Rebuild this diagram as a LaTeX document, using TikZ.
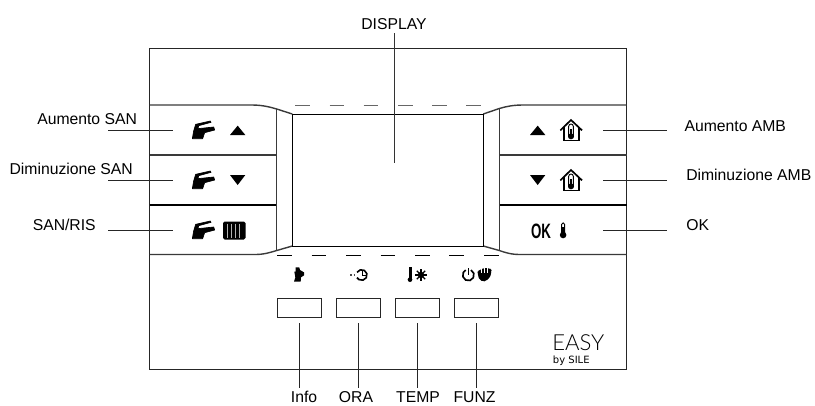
\documentclass[tikz,border=0pt]{standalone}
\usepackage{fontspec}
\setmainfont{Liberation Sans}
\newfontfamily\easyfont{Lato Light}
\newfontfamily\byfont{DejaVu Sans}
\usetikzlibrary{calc}
\definecolor{edge}{HTML}{3A3A3A}
\tikzset{
 px/.style={x=.75pt,y=-.75pt},
 lab/.style={inner sep=0pt,anchor=base west,font=\fontsize{11.8pt}{14pt}\selectfont},
 labc/.style={inner sep=0pt,anchor=base,font=\fontsize{11.8pt}{14pt}\selectfont},
 frameline/.style={draw=black!85,line width=.7pt},
 keyline/.style={draw=edge,line width=1.05pt},
 leader/.style={draw=black!85,line width=.6pt},
 dashline/.style={draw=black!60,line width=.75pt},
 softkey/.style={draw=black!85,line width=.65pt,minimum width=33pt,minimum height=14.2pt,inner sep=0pt},
 faucet/.pic={\filldraw[black,line width=.5pt,line join=round,x=.25pt,y=-.25pt]
   (187,146)--(191,123)--(197,103)--(241,93)--(243,97)--(206,107)--(204,116)--(251,111)--(254,120)--(224,128)--(218,146)--cycle;},
 uptri/.pic={\fill[black,x=.25pt,y=-.25pt] (300,135)--(346,135)--(323,107)--cycle;},
 dntri/.pic={\fill[black,x=.25pt,y=-.25pt] (300,255)--(346,255)--(323,285)--cycle;},
 house/.pic={\begin{scope}[x=.25pt,y=-.25pt]
   \draw[black,line width=1.25pt,line join=miter] (271,121)--(303,90)--(336,121);
   \draw[black,line width=1.25pt] (281,112)--(281,151)--(326,151)--(326,112);
   \draw[black,line width=.7pt] (296,142)--(296,109) arc[start angle=180,end angle=360,radius=7]--(310,142);
   \fill[black] (303,139) circle[radius=9];
   \fill[black] (300,116) rectangle (306,139);
 \end{scope}},
}
\begin{document}
\begin{tikzpicture}[px]
\useasboundingbox (0,0) rectangle (815,405);
% frame
\draw[frameline] (149.5,48) rectangle (626.7,369.3);
% horizontal key lines left
\draw[keyline] (149.5,105) -- (252,105) .. controls (262,105) and (270,107) .. (276.7,109) -- (292.3,114);
\draw[keyline] (149.5,155) -- (276.7,155);
\draw[keyline,draw=black] (149.5,205) -- (276.7,205);
\draw[keyline] (149.5,254.5) -- (255,254.5) .. controls (264,254.5) and (270,252.5) .. (276.7,250.5) -- (292.3,246);
\draw[keyline] (276.7,109) -- (276.7,250.5);
% right
\draw[keyline] (626.7,105) -- (523,105) .. controls (513,105) and (506,106.5) .. (499.3,108.5) -- (483.3,114);
\draw[keyline] (626.7,155) -- (499.3,155);
\draw[keyline,draw=black] (626.7,205) -- (499.3,205);
\draw[keyline] (626.7,254.5) -- (520,254.5) .. controls (511,254.5) and (505,252.5) .. (499.3,250.5) -- (483.3,246);
\draw[keyline] (499.3,108.5) -- (499.3,250.5);
% display
\node[draw=black,line width=.7pt,minimum width=143.5pt,minimum height=99pt,inner sep=0pt] (disp) at (387.8,180) {};
% dashes
\foreach \a in {295,329.5,363.5,398,432,466}
  \draw[dashline] (\a,105.3) -- ++(14.7,0);
\foreach \a in {277.3,311.7,346,380.7,415,449,484}
  \draw[dashline,draw=black] (\a,255) -- ++(14.7,0);
% faucets
\pic at (130,90) {faucet};
\pic at (130,140) {faucet};
\pic at (130,190) {faucet};
\pic at (130,90) {uptri};
\pic at (130,90) {dntri};
% radiator
\fill[black,rounded corners=1.2pt] (223,221.5) rectangle (245.5,239.5);
\foreach \a in {227.5,231.5,235.5,239.5}
  \draw[white!70!black,line width=.3pt] (\a,223.5) -- (\a,237.5);
% right-hand icons
\pic at (430,90) {uptri};
\pic at (430,90) {dntri};
\pic at (470,90) {house};
\pic at (470,140) {house};
\node[inner sep=0pt,anchor=base,font=\fontsize{15.6pt}{16pt}\bfseries\selectfont,transform shape,xscale=.64] (ok) at (541,238.2) {OK};
% thermometer
\draw[black,line width=.7pt] (561.6,233) -- (561.6,224.3) arc[start angle=180,end angle=360,radius=1.5] -- (564.6,233);
\fill[black] (563.1,235) circle[radius=3.3];
\fill[black] (562.3,227) rectangle (563.9,234);
% small icons
\begin{scope}[shift={(260,240)},x=.25pt,y=-.25pt]
 \fill[black] (103,95)--(107,95)--(107,82)--(118,82)--(120,90)--(132,97)--(132,106)--(123,112)--(122,125)--(102,125)--(106,112)--cycle;
 \draw[black,line width=1.2pt] (305,105) ++(210:16) arc[start angle=210,end angle=510,radius=16];
 \draw[black,line width=1pt] (307,90)--(307,107)--(320,107);
 \draw[black!70,line width=1.4pt,densely dotted] (271,104)--(289,104);
 \fill[black] (450,119) circle[radius=7];
 \fill[black] (447,82) rectangle (456,120);
 \fill[black] (483,105) circle[radius=10];
 \foreach \a in {0,45,...,315}
   \draw[black,line width=1pt] ($(483,105)+(\a:9)$) -- ($(483,105)+(\a:18)$);
 \draw[black,line width=1.25pt] (625,105) ++(-62:17) arc[start angle=-62,end angle=242,radius=17];
 \draw[black,line width=1.1pt] (625,84)--(625,106);
 \fill[black,rounded corners=3pt] (651,102)--(656,88)--(690,82)--(697,96)--(684,122)--(662,126)--cycle;
 \foreach \a in {665,674,683}
   \draw[white,line width=.3pt] (\a,84)--(\a,100);
\end{scope}
% soft keys
\node[softkey] (k1) at (299.5,307.8) {};
\node[softkey] (k2) at (358.3,307.8) {};
\node[softkey] (k3) at (417.5,307.8) {};
\node[softkey] (k4) at (476.5,307.8) {};
% bottom labels
\node[labc] (linfo) at (304,402.5) {Info};
\node[labc] (lora) at (356,402.5) {ORA};
\node[labc] (ltemp) at (418,402.5) {TEMP};
\node[labc] (lfunz) at (474.5,402.5) {FUNZ};
\coordinate (b1a) at (299,323.3); \coordinate (b1b) at (299,388.3);
\coordinate (b2a) at (358.3,323.3); \coordinate (b2b) at (358.3,388.3);
\coordinate (b3a) at (417.5,323.3); \coordinate (b3b) at (417.5,388.3);
\coordinate (b4a) at (476.3,323.3); \coordinate (b4b) at (476.3,388.3);
\draw[leader] (b1a) -- (b1b);
\draw[leader] (b2a) -- (b2b);
\draw[leader] (b3a) -- (b3b);
\draw[leader] (b4a) -- (b4b);
% side labels
\node[lab] (l1) at (37,124) {Aumento SAN};
\node[lab] (l2) at (9.3,174) {Diminuzione SAN};
\node[lab] (l3) at (32.5,230) {SAN/RIS};
\node[lab] (r1) at (684.3,131) {Aumento AMB};
\node[lab] (r2) at (686,180) {Diminuzione AMB};
\node[lab] (r3) at (686,230) {OK};
\foreach \y/\n in {130/a,180/b,230/c}{
  \coordinate (la\n) at (108,\y); \coordinate (lb\n) at (172.7,\y);
  \coordinate (ra\n) at (603,\y); \coordinate (rb\n) at (667,\y);
  \draw[leader] (la\n) -- (lb\n);
  \draw[leader] (ra\n) -- (rb\n);
}
% display label
\node[labc] (dl) at (394,29) {DISPLAY};
\coordinate (da) at (394.3,33); \coordinate (db) at (394.3,163);
\draw[draw=black!80,line width=.7pt] (da) -- (db);
% logo
\node[inner sep=0pt,anchor=base west,font=\easyfont\fontsize{16.6pt}{18pt}\selectfont] (easy) at (552,350.7) {EASY};
\node[inner sep=0pt,anchor=base west,font=\byfont\fontsize{7.5pt}{9pt}\selectfont] (by) at (552.7,363) {by SILE};
\end{tikzpicture}
\end{document}
